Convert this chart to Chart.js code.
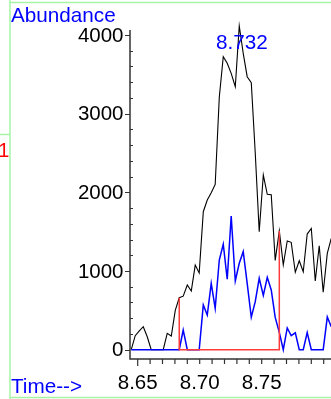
<!DOCTYPE html>
<html>
<head>
<meta charset="utf-8">
<script src="https://cdn.jsdelivr.net/npm/chart.js@4/dist/chart.umd.min.js"></script>
<style>
html,body{margin:0;padding:0;background:#fff;overflow:hidden;}
#wrap{position:relative;width:331px;height:399px;}
canvas{display:block;}
</style>
</head>
<body>
<div id="wrap"><canvas id="c" width="331" height="399"></canvas></div>
<script>
// Retention times (min)
const times = [8.6448,8.6480,8.6513,8.6545,8.6577,8.6609,8.6642,8.6674,8.6706,8.6738,
  8.6771,8.6803,8.6835,8.6867,8.6900,8.6932,8.6964,8.6996,8.7029,8.7061,
  8.7093,8.7125,8.7158,8.7190,8.7222,8.7254,8.7287,8.7319,8.7351,8.7383,
  8.7416,8.7448,8.7480,8.7513,8.7545,8.7577,8.7609,8.7642,8.7674,8.7706,
  8.7738,8.7771,8.7803,8.7835,8.7867,8.7900,8.7932,8.7964,8.7996,8.8029,8.8061];
// Total ion abundance (black)
const ticAbundance = [0,178,240,292,165,0,0,0,0,208,
  174,500,660,680,822,745,1076,975,1754,1903,
  1995,2100,3208,3724,3640,3513,3343,4114,3767,3470,
  3395,2500,1500,2220,1975,1970,1135,1510,1080,1383,
  1365,985,1131,991,1470,1540,873,1322,730,1225,1416];
// Extracted ion abundance (blue)
const ionAbundance = [0,0,0,0,0,0,0,0,0,0,
  0,0,0,250,0,0,0,0,568,441,
  844,526,1140,1340,895,1699,873,1098,1246,844,
  412,610,907,690,920,759,410,220,0,276,
  180,215,0,0,218,0,0,0,0,415,292];
// Integration baseline (red)
const integTimes = [8.6835,8.6835,8.7642,8.7642];
const integValues = [660,0,0,1510];
// Axis ticks
const xTickValues = [8.65,8.66,8.67,8.68,8.69,8.70,8.71,8.72,8.73,8.74,8.75,8.76,8.77,8.78,8.79,8.80];
const xLabelValues = [8.65,8.70,8.75];
const yTickValues = [0,200,400,600,800,1000,1200,1400,1600,1800,2000,2200,2400,2600,2800,3000,3200,3400,3600,3800,4000];
const yLabelValues = [0,1000,2000,3000,4000];
const peakTime = 8.732;
const peakLabel = '8.732';

const FONT = '"Liberation Sans", Arial, sans-serif';

function pts(xs, ys){ return xs.map((x,i)=>({x:x,y:ys[i]})); }

const decor = {
  id:'decor',
  beforeDatasetsDraw(chart){
    const ctx = chart.ctx;
    const xs = chart.scales.x, ys = chart.scales.y;
    const a = chart.chartArea;
    ctx.save();
    // green frame
    ctx.strokeStyle = '#a6f5a6';
    ctx.lineWidth = 1.5;
    ctx.beginPath();
    ctx.moveTo(10,0); ctx.lineTo(10,399);
    ctx.moveTo(10,2.5); ctx.lineTo(331,2.5);
    ctx.moveTo(10,397.5); ctx.lineTo(331,397.5);
    ctx.moveTo(0,134.5); ctx.lineTo(10,134.5);
    ctx.stroke();
    // axes
    ctx.strokeStyle = '#333';
    ctx.lineWidth = 1.5;
    ctx.beginPath();
    ctx.moveTo(a.left, a.top); ctx.lineTo(a.left, a.bottom);
    ctx.lineTo(a.right, a.bottom);
    ctx.stroke();
    ctx.lineWidth = 1.2;
    ctx.beginPath();
    yTickValues.forEach(v=>{
      const p = Math.round(ys.getPixelForValue(v))+0.5;
      if (yLabelValues.includes(v)) { ctx.moveTo(a.left-5,p); ctx.lineTo(a.left,p); }
      else { ctx.moveTo(a.left,p); ctx.lineTo(a.left+3,p); }
    });
    xTickValues.forEach((v,i)=>{
      const p = xs.getPixelForValue(v);
      ctx.moveTo(p,a.bottom); ctx.lineTo(p,a.bottom+(i===0?7:5));
    });
    ctx.stroke();
    // tick labels
    ctx.fillStyle = '#000';
    ctx.font = '20.5px ' + FONT;
    ctx.textAlign = 'right';
    ctx.textBaseline = 'middle';
    yLabelValues.forEach(v=>{
      ctx.fillText(String(v), a.left-6.5, ys.getPixelForValue(v)+1);
    });
    ctx.textAlign = 'center';
    ctx.textBaseline = 'alphabetic';
    xLabelValues.forEach(v=>{
      ctx.fillText(v.toFixed(2), xs.getPixelForValue(v), 389);
    });
    ctx.restore();
  },
  afterDraw(chart){
    const ctx = chart.ctx;
    const xs = chart.scales.x;
    ctx.save();
    ctx.font = '20.7px ' + FONT;
    ctx.fillStyle = '#0000ff';
    ctx.textBaseline = 'alphabetic';
    ctx.textAlign = 'left';
    ctx.fillText('Abundance', 11, 21.7);
    ctx.fillText('Time-->', 11, 392.5);
    ctx.textAlign = 'center';
    ctx.fillText(peakLabel, xs.getPixelForValue(peakTime)+2.6, 49);
    ctx.fillStyle = '#ff0000';
    ctx.font = '20px ' + FONT;
    ctx.textAlign = 'left';
    ctx.fillText('1', -1.8, 157.3);
    ctx.restore();
  }
};

new Chart(document.getElementById('c'), {
  type:'line',
  data:{
    datasets:[
      {data: pts(integTimes, integValues), borderColor:'#ff3b3b', borderWidth:1.5, pointRadius:0, tension:0, order:0, clip:false},
      {data: pts(times, ionAbundance), borderColor:'#0000ff', borderWidth:1.5, pointRadius:0, tension:0, order:1},
      {data: pts(times, ticAbundance), borderColor:'#000000', borderWidth:1.1, pointRadius:0, tension:0, order:2, clip:{left:0,right:0,top:10,bottom:0}}
    ]
  },
  options:{
    responsive:false,
    animation:false,
    devicePixelRatio:1,
    layout:{padding:{left:130,right:0,top:30,bottom:40}},
    plugins:{legend:{display:false}, tooltip:{enabled:false}},
    scales:{
      x:{type:'linear', min:8.64379, max:8.80589, display:false},
      y:{type:'linear', min:-118.2, max:4063.6, display:false}
    }
  },
  plugins:[decor]
});
</script>
</body>
</html>
